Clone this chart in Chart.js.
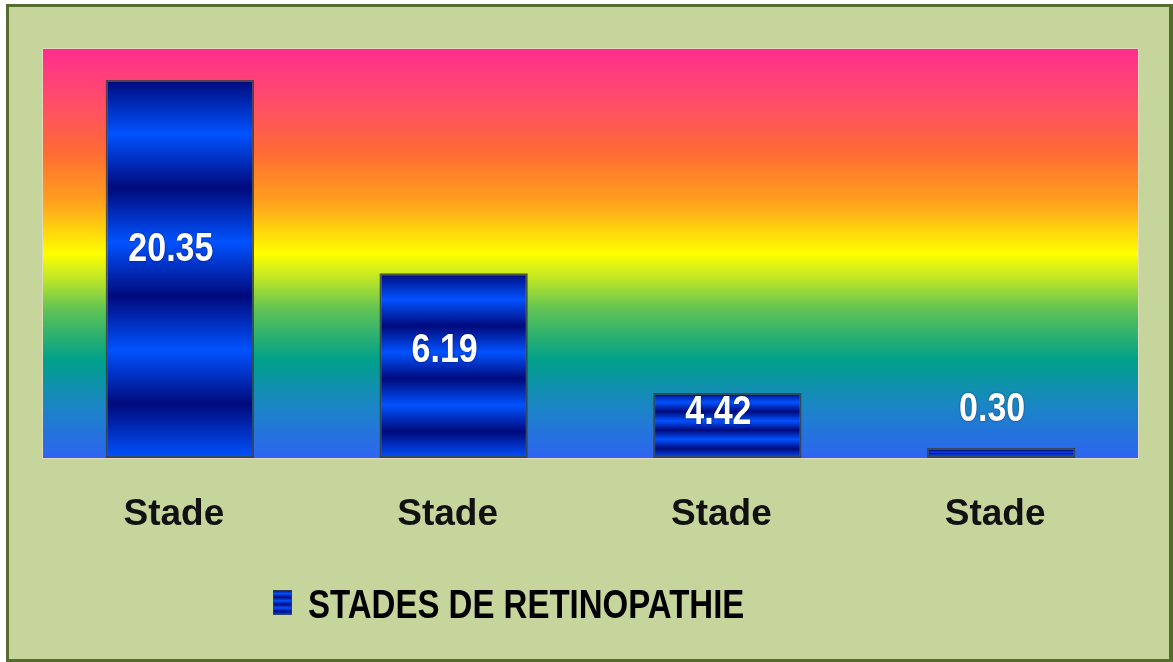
<!DOCTYPE html>
<html>
<head>
<meta charset="utf-8">
<script src="https://cdn.jsdelivr.net/npm/chart.js@4.4.1/dist/chart.umd.min.js"></script>
<style>
  html, body { margin: 0; padding: 0; background: #ffffff; }
  #wrap { width: 1173px; height: 662px; position: relative; }
</style>
</head>
<body>
<div id="wrap"><canvas id="retinoChart" width="1173" height="662"></canvas></div>
<script>
// categories and values
const categories = ['Stade', 'Stade', 'Stade', 'Stade'];
// bar heights (percent of plot height, axis is hidden)
const barHeights = [92.4, 45.2, 15.9, 2.5];
// numbers printed on the bars
const valueLabels = ['20.35', '6.19', '4.42', '0.30'];
const seriesName = 'STADES DE RETINOPATHIE';

const FONT = '"Liberation Sans", Arial, sans-serif';

// banded blue fill for one bar, stretched from its top to its base
function bandGradient(ctx, top, bottom) {
  const g = ctx.createLinearGradient(0, top, 0, bottom);
  const n = 7;
  for (let i = 0; i <= n; i++) {
    g.addColorStop(i / n, i % 2 === 0 ? '#000a7c' : '#0052ff');
  }
  return g;
}

// background, frame and rainbow plot area
const backdrop = {
  id: 'backdrop',
  beforeDraw(chart) {
    const ctx = chart.ctx;
    const a = chart.chartArea;
    ctx.save();
    ctx.fillStyle = '#ffffff';
    ctx.fillRect(0, 0, chart.width, chart.height);
    ctx.fillStyle = '#566b2e';
    ctx.fillRect(6, 4, chart.width - 6, chart.height - 4);
    ctx.fillStyle = '#c5d59c';
    ctx.fillRect(9, 7, chart.width - 13, chart.height - 10);

    const g = ctx.createLinearGradient(0, a.top, 0, a.bottom);
    g.addColorStop(0, '#ff2e8e');
    g.addColorStop(0.15, '#ff5262');
    g.addColorStop(0.25, '#ff6a34');
    g.addColorStop(0.38, '#ffa41c');
    g.addColorStop(0.5, '#ffff00');
    g.addColorStop(0.57, '#b4e22c');
    g.addColorStop(0.64, '#5cc256');
    g.addColorStop(0.76, '#00a08a');
    g.addColorStop(0.87, '#1a86c4');
    g.addColorStop(1, '#2f64f2');
    ctx.fillStyle = g;
    ctx.fillRect(a.left, a.top, a.right - a.left, a.bottom - a.top);
    ctx.strokeStyle = 'rgba(255,220,220,0.5)';
    ctx.lineWidth = 1;
    ctx.strokeRect(a.left - 0.5, a.top - 0.5, a.right - a.left + 1, a.bottom - a.top + 1);
    ctx.restore();
  }
};

// numbers on the bars + legend at the bottom
const labelsAndLegend = {
  id: 'labelsAndLegend',
  afterDatasetsDraw(chart) {
    const ctx = chart.ctx;
    const bars = chart.getDatasetMeta(0).data;
    ctx.save();
    ctx.fillStyle = '#ffffff';
    ctx.font = 'bold 34px ' + FONT;
    ctx.textAlign = 'center';
    ctx.textBaseline = 'alphabetic';
    bars.forEach((bar, i) => {
      const h = bar.base - bar.y;
      let baseline;
      if (h > 40) {
        baseline = (bar.y + bar.base) / 2 - 0.02 * h;
      } else {
        baseline = bar.y - 27;
      }
      ctx.save();
      ctx.translate(bar.x - 9, baseline);
      ctx.scale(1, 1.18);
      ctx.shadowColor = 'rgba(0,0,40,0.6)';
      ctx.shadowBlur = 2;
      ctx.fillText(valueLabels[i], 0, 0);
      ctx.restore();
    });
    ctx.restore();
  },
  afterDraw(chart) {
    const ctx = chart.ctx;
    ctx.save();
    // legend swatch
    ctx.fillStyle = bandGradient(ctx, 590, 615);
    ctx.fillRect(273, 590, 19, 25);
    ctx.strokeStyle = 'rgba(60,70,70,0.7)';
    ctx.lineWidth = 1;
    ctx.strokeRect(273.5, 590.5, 18, 24);
    // legend text
    ctx.fillStyle = '#000000';
    ctx.font = 'bold 33px ' + FONT;
    ctx.textAlign = 'left';
    ctx.textBaseline = 'alphabetic';
    ctx.translate(308, 618);
    ctx.scale(1, 1.25);
    ctx.fillText(seriesName, 0, 0);
    ctx.restore();
  }
};

const ctxRetino = document.getElementById('retinoChart');
const retinoChart = new Chart(ctxRetino, {
  type: 'bar',
  data: {
    labels: categories,
    datasets: [{
      label: seriesName,
      data: barHeights,
      backgroundColor: function(context) {
        const chart = context.chart;
        if (!chart.chartArea || !chart.scales.y) return '#0030d0';
        const y = chart.scales.y;
        const top = y.getPixelForValue(context.raw);
        const bottom = y.getPixelForValue(0);
        return bandGradient(chart.ctx, top, bottom);
      },
      borderColor: 'rgba(55,65,70,0.85)',
      borderWidth: 2,
      borderSkipped: false,
      barPercentage: 0.542,
      categoryPercentage: 1.0
    }]
  },
  options: {
    responsive: false,
    animation: false,
    layout: { padding: { left: 43, top: 49, right: 35, bottom: 0 } },
    plugins: {
      legend: { display: false },
      tooltip: { enabled: false }
    },
    scales: {
      x: {
        grid: { display: false, drawTicks: false },
        border: { display: false },
        ticks: {
          color: '#111111',
          font: { family: FONT, size: 37, weight: 'bold' },
          padding: 35,
          labelOffset: -6,
          maxRotation: 0,
          autoSkip: false
        },
        afterFit(scale) { scale.height = 204; }
      },
      y: {
        display: false,
        min: 0,
        max: 100
      }
    }
  },
  plugins: [backdrop, labelsAndLegend]
});
</script>
</body>
</html>
